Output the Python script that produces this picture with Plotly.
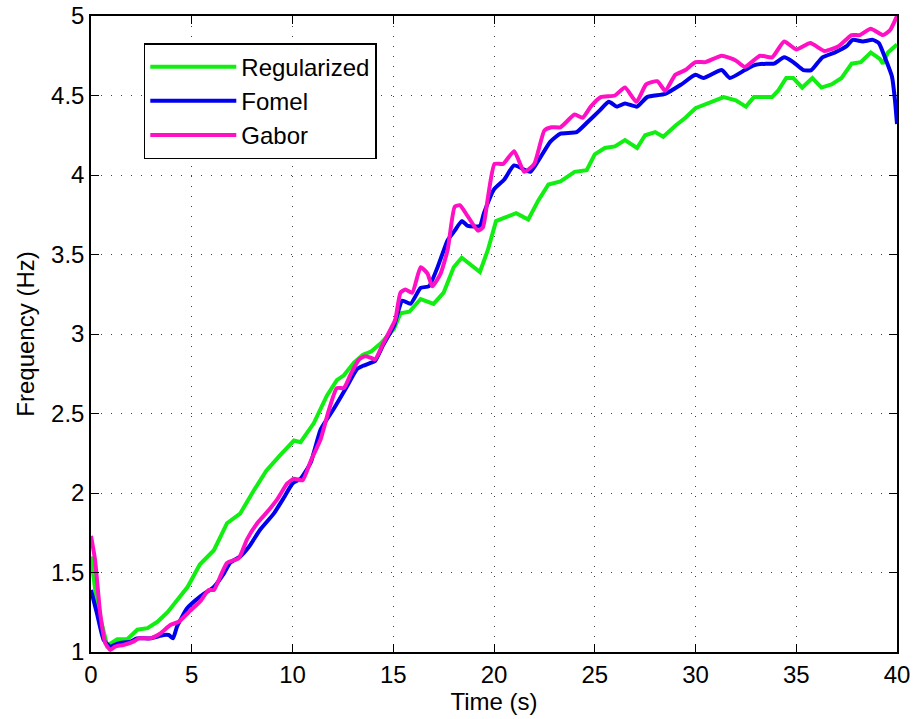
import plotly.graph_objects as go

# ---- data ----
reg_t = [0, 0.3, 0.8, 1.3, 1.8, 2.3, 2.8, 3.3, 3.8, 4.3, 4.8, 5.4, 6.1, 6.75, 7.4, 8.1, 8.7, 9.4,
         10.07, 10.4, 11.06, 11.7, 12.2, 12.55, 13.05, 13.5, 13.9, 14.37, 15.03, 15.36, 15.8,
         16.36, 17.0, 17.5, 18.0, 18.4, 19.3, 19.7, 20.1, 20.5, 21.1, 21.7, 22.2, 22.7, 23.3,
         24.0, 24.6, 25.0, 25.5, 26.0, 26.5, 27.1, 27.5, 28.0, 28.4, 29.0, 29.5, 30.0, 30.6,
         31.4, 32.0, 32.5, 32.9, 33.8, 34.1, 34.5, 34.85, 35.3, 35.8, 36.25, 36.75, 37.25,
         37.75, 38.2, 38.7, 39.15, 39.3, 39.55, 40.0]
reg_f = [1.60, 1.30, 1.04, 1.08, 1.08, 1.14, 1.15, 1.19, 1.25, 1.33, 1.41, 1.55, 1.64, 1.81,
         1.87, 2.02, 2.14, 2.24, 2.33, 2.32, 2.44, 2.61, 2.71, 2.74, 2.82, 2.87, 2.89, 2.94,
         3.03, 3.13, 3.14, 3.22, 3.19, 3.26, 3.42, 3.48, 3.39, 3.53, 3.71, 3.73, 3.76, 3.72,
         3.84, 3.94, 3.96, 4.02, 4.03, 4.13, 4.17, 4.18, 4.22, 4.17, 4.25, 4.27, 4.24, 4.31,
         4.36, 4.42, 4.45, 4.49, 4.47, 4.43, 4.49, 4.49, 4.53, 4.61, 4.61, 4.55, 4.61, 4.55,
         4.57, 4.61, 4.70, 4.71, 4.77, 4.73, 4.70, 4.77, 4.82]

fom_t = [0, 0.3, 0.63, 0.96, 1.37, 1.95, 2.28, 2.95, 3.6, 3.85, 4.07, 4.27, 4.77, 5.43, 6.1,
         6.6, 6.9, 7.4, 7.83, 8.4, 9.07, 9.57, 10.0, 10.4, 10.9, 11.4, 12.05, 12.7, 13.2, 13.5,
         13.9, 14.1, 14.5, 15.03, 15.45, 15.86, 16.36, 16.77, 17.2, 17.7, 18.05, 18.4, 18.7,
         19.3, 19.5, 20.0, 20.5, 21.0, 21.8, 22.2, 22.8, 23.3, 24.1, 24.7, 25.2, 25.7, 26.1,
         26.5, 27.1, 27.6, 28.5, 29.3, 30.0, 30.4, 31.3, 31.7, 32.45, 32.9, 33.5, 33.9, 34.4,
         34.85, 35.35, 35.75, 36.3, 36.9, 37.5, 37.8, 38.3, 38.8, 39.1, 39.4, 39.75, 39.9, 40.0]
fom_f = [1.39, 1.24, 1.075, 1.034, 1.055, 1.065, 1.086, 1.086, 1.107, 1.107, 1.086, 1.16,
         1.275, 1.35, 1.41, 1.495, 1.56, 1.60, 1.66, 1.77, 1.87, 1.97, 2.06, 2.09, 2.19, 2.40,
         2.53, 2.67, 2.78, 2.80, 2.82, 2.83, 2.93, 3.05, 3.21, 3.19, 3.29, 3.30, 3.42, 3.59,
         3.65, 3.71, 3.68, 3.68, 3.76, 3.91, 3.97, 4.06, 4.02, 4.09, 4.21, 4.26, 4.27, 4.34,
         4.40, 4.46, 4.43, 4.45, 4.43, 4.49, 4.51, 4.57, 4.63, 4.61, 4.66, 4.61, 4.66, 4.69,
         4.70, 4.70, 4.74, 4.71, 4.66, 4.66, 4.74, 4.77, 4.81, 4.85, 4.84, 4.85, 4.83, 4.74,
         4.62, 4.47, 4.32]

gab_t = [0, 0.2, 0.46, 0.71, 0.96, 1.2, 1.6, 2.1, 2.37, 2.95, 3.44, 3.94, 4.35, 4.93, 5.43,
         5.84, 6.1, 6.4, 6.75, 7.33, 7.75, 8.25, 8.74, 9.24, 9.74, 10.07, 10.5, 10.9, 11.4,
         11.8, 12.2, 12.55, 12.9, 13.3, 13.6, 13.9, 14.1, 14.5, 14.87, 15.1, 15.36, 15.6,
         15.94, 16.36, 16.7, 16.94, 17.35, 17.7, 18.05, 18.3, 18.7, 19.2, 19.45, 19.7, 20.03,
         20.45, 21.0, 21.5, 22.0, 22.5, 22.85, 23.3, 24.0, 24.4, 24.8, 25.3, 26.0, 26.5,
         27.07, 27.55, 28.1, 28.5, 29.0, 29.5, 30.0, 30.5, 31.3, 32.0, 32.45, 33.2, 33.8,
         34.4, 35.0, 35.7, 36.4, 37.1, 37.75, 38.15, 38.7, 39.3, 39.65, 40.0]
gab_f = [1.73, 1.58, 1.24, 1.055, 1.013, 1.034, 1.044, 1.065, 1.086, 1.086, 1.117, 1.17,
         1.19, 1.26, 1.32, 1.39, 1.39, 1.47, 1.56, 1.59, 1.71, 1.81, 1.88, 1.96, 2.06, 2.09,
         2.08, 2.20, 2.34, 2.52, 2.66, 2.66, 2.75, 2.84, 2.86, 2.85, 2.84, 2.94, 3.03, 3.09,
         3.26, 3.28, 3.26, 3.42, 3.38, 3.30, 3.38, 3.53, 3.80, 3.81, 3.74, 3.65, 3.67, 3.86,
         4.07, 4.07, 4.15, 4.02, 4.07, 4.28, 4.30, 4.30, 4.38, 4.36, 4.43, 4.49, 4.50, 4.55,
         4.46, 4.57, 4.59, 4.53, 4.63, 4.66, 4.71, 4.71, 4.75, 4.72, 4.68, 4.75, 4.74, 4.84,
         4.79, 4.83, 4.78, 4.81, 4.88, 4.88, 4.92, 4.88, 4.91, 5.0]

x_ticks = [0, 5, 10, 15, 20, 25, 30, 35, 40]
y_ticks = [1, 1.5, 2, 2.5, 3, 3.5, 4, 4.5, 5]
y_tick_text = ["1", "1.5", "2", "2.5", "3", "3.5", "4", "4.5", "5"]

FONT = "Liberation Sans, Arial, sans-serif"

fig = go.Figure()
fig.add_trace(go.Scatter(x=reg_t, y=reg_f, mode="lines", name="Regularized",
                         line=dict(color="#11ee11", width=4)))
fig.add_trace(go.Scatter(x=fom_t, y=fom_f, mode="lines", name="Fomel",
                         line=dict(color="#0000ee", width=4, shape="spline", smoothing=0.5)))
fig.add_trace(go.Scatter(x=gab_t, y=gab_f, mode="lines", name="Gabor",
                         line=dict(color="#ff10c4", width=4, shape="spline", smoothing=0.5)))

axis_common = dict(
    showline=True, linecolor="black", linewidth=1.5, mirror="ticks",
    ticks="inside", ticklen=8, tickwidth=1, tickcolor="black",
    showgrid=True, gridcolor="rgba(0,0,0,0.75)", gridwidth=1, griddash="1px,9px",
    zeroline=False, automargin=False,
    tickfont=dict(family=FONT, size=24, color="black"),
)

fig.update_xaxes(range=[0, 40], tickvals=x_ticks,
                 title=dict(text="Time (s)", font=dict(family=FONT, size=24, color="black"),
                            standoff=2),
                 **axis_common)
fig.update_yaxes(range=[1, 5], tickvals=y_ticks, ticktext=y_tick_text,
                 title=dict(text="Frequency (Hz)", font=dict(family=FONT, size=24, color="black"),
                            standoff=10),
                 **axis_common)

fig.update_layout(
    width=914, height=719,
    margin=dict(l=91, r=17, t=16, b=67),
    plot_bgcolor="white", paper_bgcolor="white",
    font=dict(family=FONT, color="black"),
    legend=dict(x=0.0655, y=0.9575, xanchor="left", yanchor="top",
                bgcolor="white", bordercolor="black", borderwidth=1.5,
                font=dict(family=FONT, size=24, color="black"),
                itemwidth=86, tracegroupgap=0),
)

fig.write_html("out.html")
